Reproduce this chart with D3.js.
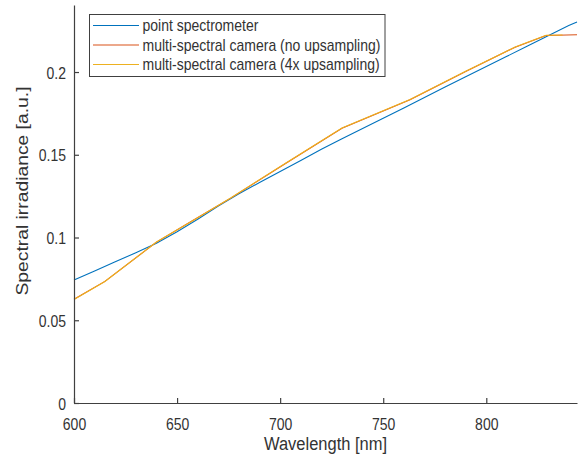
<!DOCTYPE html>
<html>
<head>
<meta charset="utf-8">
<script src="https://cdn.jsdelivr.net/npm/d3@7"></script>
<style>
  html, body { margin: 0; padding: 0; background: #fff; }
  svg { display: block; }
  text { font-family: "Liberation Sans", Arial, sans-serif; fill: #333; }
</style>
</head>
<body>
<div id="chart"></div>
<script>
// point spectrometer
const specWl  = [600, 610, 620, 630, 640, 650, 660, 670, 680, 690, 700, 710, 720, 730, 740, 750, 760, 770, 780, 790, 800, 810, 820, 830, 840, 844];
const specVal = [0.0743, 0.0798, 0.0853, 0.0908, 0.0966, 0.1035, 0.1110, 0.1190, 0.1264, 0.1332, 0.1399, 0.1465, 0.1533, 0.1597, 0.1659, 0.1721, 0.1783, 0.1846, 0.1909, 0.1971, 0.2033, 0.2095, 0.2157, 0.2219, 0.2281, 0.2303];
// multi-spectral camera (no upsampling)
const camWl  = [600, 615, 640, 657, 676, 703, 730, 763, 790, 814, 829, 844];
const camVal = [0.0627, 0.0735, 0.0972, 0.1098, 0.1238, 0.1450, 0.1660, 0.1832, 0.2003, 0.2150, 0.2221, 0.2225];
// multi-spectral camera (4x upsampling)
const upWl  = [600, 615, 640, 657, 676, 703, 730, 763, 790, 814, 829, 837];
const upVal = [0.0626, 0.0734, 0.0973, 0.1097, 0.1239, 0.1452, 0.1662, 0.1834, 0.2005, 0.2151, 0.2222, 0.2224];

const xTicks = [600, 650, 700, 750, 800];
const yTicks = [0, 0.05, 0.1, 0.15, 0.2];

const seriesNames = ['point spectrometer', 'multi-spectral camera (no upsampling)', 'multi-spectral camera (4x upsampling)'];
const seriesColors = ['#0072BD', '#D95319', '#EDB120'];

const W = 579, H = 457;
const M = { t: 5, r: 2, b: 54, l: 74 };

const svg = d3.select('#chart').append('svg')
  .attr('width', W)
  .attr('height', H);

const x = d3.scaleLinear().domain([600, 844]).range([M.l, W - M.r]);
const y = d3.scaleLinear().domain([0, 0.2405]).range([H - M.b, M.t]);

const line = d3.line().x(d => x(d[0])).y(d => y(d[1]));
const series = [
  d3.zip(specWl, specVal),
  d3.zip(camWl, camVal),
  d3.zip(upWl, upVal)
];

svg.append('g')
  .selectAll('path')
  .data(series)
  .enter().append('path')
  .attr('d', line)
  .attr('fill', 'none')
  .attr('stroke', (d, i) => seriesColors[i])
  .attr('stroke-width', 1.1);

// axes (MATLAB style: inward ticks, no box)
const gx = svg.append('g')
  .attr('transform', `translate(0,${H - M.b})`)
  .call(d3.axisBottom(x).tickValues(xTicks).tickSize(-5).tickSizeOuter(0).tickFormat(d3.format('d')));
const gy = svg.append('g')
  .attr('transform', `translate(${M.l},0)`)
  .call(d3.axisLeft(y).tickValues(yTicks).tickSize(-5).tickSizeOuter(0).tickFormat(d => d === 0 ? '0' : String(d)));

[gx, gy].forEach(g => {
  g.select('.domain').attr('stroke', '#404040').attr('stroke-width', 1.2);
  g.selectAll('.tick line').attr('stroke', '#404040').attr('stroke-width', 1.2);
  g.attr('font-family', null).attr('font-size', null);
});

gx.selectAll('.tick text')
  .attr('x', null).attr('y', null).attr('dy', null)
  .attr('text-anchor', 'middle')
  .style('font-size', '14px')
  .attr('transform', 'translate(0,27) scale(1,1.2)');

gy.selectAll('.tick text')
  .attr('x', null).attr('y', null).attr('dy', null)
  .attr('text-anchor', 'end')
  .style('font-size', '14px')
  .attr('transform', 'translate(-8,6.2) scale(1,1.22)');

// axis labels
svg.append('text')
  .attr('text-anchor', 'middle')
  .style('font-size', '16.5px')
  .attr('transform', `translate(${(M.l + W - M.r) / 2},450) scale(1,1.1)`)
  .text('Wavelength [nm]');

svg.append('text')
  .attr('text-anchor', 'middle')
  .style('font-size', '16.5px')
  .attr('transform', 'translate(28,191) scale(1,1.17) rotate(-90)')
  .text('Spectral irradiance [a.u.]');

// legend
const leg = svg.append('g');
leg.append('rect')
  .attr('x', 89.5).attr('y', 14.5)
  .attr('width', 295.5).attr('height', 62)
  .attr('fill', '#fff')
  .attr('stroke', '#404040')
  .attr('stroke-width', 1);

const rowY = [25.5, 45, 64.5];
seriesNames.forEach((name, i) => {
  leg.append('line')
    .attr('x1', 93).attr('x2', 139)
    .attr('y1', rowY[i]).attr('y2', rowY[i])
    .attr('stroke', seriesColors[i])
    .attr('stroke-width', 1.1);
  leg.append('text')
    .style('font-size', '14px')
    .attr('transform', `translate(142.5,${rowY[i] + 5.8}) scale(1,1.2)`)
    .text(name);
});
</script>
</body>
</html>
